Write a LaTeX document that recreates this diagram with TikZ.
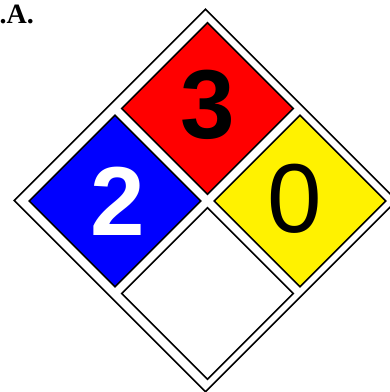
\documentclass[tikz,border=0pt]{standalone}
\usepackage{fontspec}
\setmainfont{Liberation Serif}
\newfontfamily\digitfont{Liberation Sans}
\usetikzlibrary{shapes.geometric}

\begin{document}
\begin{tikzpicture}[x=1pt,y=-1pt,every node/.style={inner sep=0pt},
  hazard/.style={diamond,draw,line width=1.6pt,aspect=1,minimum width=172pt,minimum height=172pt},
  rating/.style={font=\digitfont\fontsize{98}{98}\selectfont}]
\useasboundingbox (0,0) rectangle (390,392);
\node[anchor=base east,font=\bfseries\fontsize{28}{28}\selectfont] (tag) at (34,23) {.A.};
\node[diamond,draw,line width=1.6pt,aspect=1,minimum width=383pt,minimum height=383pt] (outer) at (205.5,200.5) {};
\node[hazard,fill=red] (fire) at (207.5,108.5) {};
\node[hazard,fill=blue] (health) at (115,201) {};
\node[hazard,fill=yellow] (react) at (300,201) {};
\node[hazard,fill=white] (special) at (207.5,293.5) {};
\node[rating,font=\digitfont\bfseries\fontsize{98}{98}\selectfont] (firenum) at (208,105) {3};
\node[rating,font=\digitfont\bfseries\fontsize{98}{98}\selectfont,text=white] (healthnum) at (117.5,201.5) {2};
\node[rating] (reactnum) at (295,199) {0};
\end{tikzpicture}
\end{document}
